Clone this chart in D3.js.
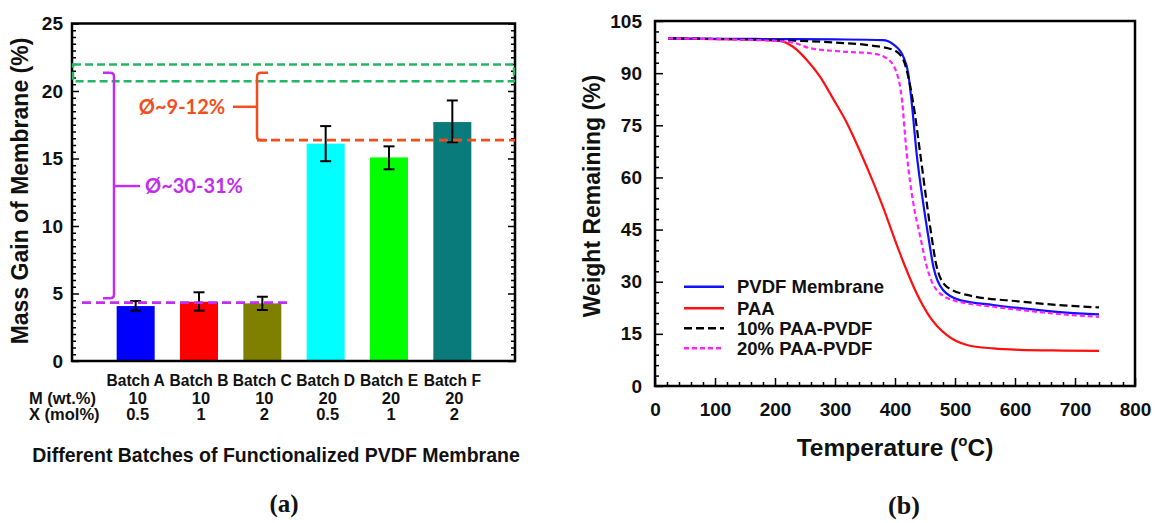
<!DOCTYPE html>
<html><head><meta charset="utf-8">
<script src="https://cdn.jsdelivr.net/npm/d3@7"></script>
<style>
body{margin:0;background:#fff}
svg{display:block}
</style>
</head><body>
<svg id="c" width="1155" height="523"></svg>
<script>
// ---------- Panel (a) data ----------
const batches = ["Batch A","Batch B","Batch C","Batch D","Batch E","Batch F"];
const massGain = [4.07, 4.39, 4.27, 16.1, 15.08, 17.7];
const errLow  = [3.73, 3.73, 3.78, 14.8, 14.2, 16.2];
const errHigh = [4.44, 5.09, 4.76, 17.4, 15.9, 19.3];
const barColors = ["#0000ff","#ff0000","#808000","#00ffff","#00ff00","#0a7b7b"];
const mValues = ["10","10","10","20","20","20"];
const xValues = ["0.5","1","2","0.5","1","2"];
const yTicksA = [0,5,10,15,20,25];
const greenBand = [20.73, 21.96];
const orangeLevel = 16.36;
const purpleLevel = 4.32;
const bracketTop = 21.35;
const orangeMid = 18.83;
const purpleMid = 12.96;
const purpleBottom = 4.64;

// ---------- Panel (b) data ----------
const seriesNames = ["PVDF Membrane","PAA","10% PAA-PVDF","20% PAA-PVDF"];
const pvdf = [[22,100],[100,99.9],[200,99.8],[300,99.7],[380,99.5],[397,98.3],[414,94.7],[422,90],[428,81.3],[436,66.9],[447,52.6],[455.5,43],[464,34.3],[480,27.6],[508,24.7],[564,23.3],[608,22.4],[680,21.2],[740,20.6]];
const paa = [[22,100],[100,99.8],[175,99.6],[208,99.3],[230,97.6],[253,93.8],[275,89],[297,82.6],[320,75.6],[342,67.4],[364,58.5],[381,51],[397,43.4],[414,35.6],[436,26.7],[458,19.9],[486,14.7],[520,11.8],[564,10.8],[608,10.4],[680,10.2],[740,10.1]];
const paa10 = [[22,100],[150,99.7],[200,99.5],[300,98.8],[358,98.0],[397,96.7],[414,93.8],[422,89],[430.5,81.3],[442,66.9],[453,52.6],[461,43],[469.5,34.3],[486,28.6],[520,26.2],[608,24.3],[680,23.2],[740,22.6]];
const paa20 = [[22,100],[150,99.6],[200,99.3],[230,98.8],[258,97.2],[314,96.2],[364,95.6],[386,94.3],[403,90],[411,83.2],[419.5,66.9],[430.5,52.6],[442,43],[453,34.3],[469.5,27.6],[497,24.7],[564,22.8],[608,21.9],[680,20.6],[740,19.9]];
const seriesColors = ["#1010ff","#ff1010","#000000","#ff22ff"];
const seriesDash = [null,null,"8,4","5,3"];
const xTicksB = [0,100,200,300,400,500,600,700,800];
const yTicksB = [0,15,30,45,60,75,90,105];

const SANS = "'Liberation Sans', Arial, sans-serif";
const SERIF = "'Liberation Serif', 'Times New Roman', serif";
const CALI = "Lato, 'Open Sans', sans-serif";
const svg = d3.select("#c");
function txt(g, x, y, s, size, opts={}){
  const t = g.append("text").attr("x",x).attr("y",y)
    .style("font-family", opts.family||SANS).style("font-weight","bold")
    .style("font-size", size+"px").style("fill", opts.fill||"#111")
    .attr("text-anchor", opts.anchor||"start");
  if (s!==null) t.text(s);
  return t;
}

// ================= Panel (a) =================
const A = {x0:72, x1:515};
const yA = d3.scaleLinear().domain([0,25]).range([361,23.5]);
const xA = d3.scaleBand().domain(batches).range([104,484]).paddingInner(0.4).paddingOuter(0.2);
const gA = svg.append("g");

gA.selectAll("rect.bar").data(batches).join("rect").attr("class","bar")
  .attr("x", d=>xA(d)).attr("width", xA.bandwidth())
  .attr("y", (d,i)=>yA(massGain[i])).attr("height",(d,i)=>yA(0)-yA(massGain[i]))
  .attr("fill",(d,i)=>barColors[i]);

const cap = 5.5;
batches.forEach((b,i)=>{
  const cx = xA(b)+xA.bandwidth()/2;
  const g = gA.append("g").attr("stroke","#000").attr("stroke-width",2);
  g.append("line").attr("x1",cx).attr("x2",cx).attr("y1",yA(errLow[i])).attr("y2",yA(errHigh[i]));
  g.append("line").attr("x1",cx-cap).attr("x2",cx+cap).attr("y1",yA(errLow[i])).attr("y2",yA(errLow[i]));
  g.append("line").attr("x1",cx-cap).attr("x2",cx+cap).attr("y1",yA(errHigh[i])).attr("y2",yA(errHigh[i]));
});

function styleAxis(g){
  g.select(".domain").remove();
  g.selectAll(".tick line").attr("stroke","#000").attr("stroke-width",1.5);
  g.selectAll("text").style("font-size","19px").style("fill","#111")
    .style("font-family",SANS).style("font-weight","bold");
}
const minorA = d3.range(0,25.01,0.5).filter(v=>v%5!==0);
gA.append("g").attr("transform",`translate(${A.x0},0)`)
  .call(d3.axisLeft(yA).tickValues(yTicksA).tickSize(-7).tickPadding(9).tickFormat(d3.format("d"))).call(styleAxis);
gA.append("g").attr("transform",`translate(${A.x0},0)`)
  .call(d3.axisLeft(yA).tickValues(minorA).tickSize(-4).tickFormat("")).call(styleAxis);
gA.append("g").attr("transform",`translate(${A.x1},0)`)
  .call(d3.axisRight(yA).tickValues(yTicksA).tickSize(-7).tickFormat("")).call(styleAxis);
gA.append("g").attr("transform",`translate(${A.x1},0)`)
  .call(d3.axisRight(yA).tickValues(minorA).tickSize(-4).tickFormat("")).call(styleAxis);

gA.append("rect").attr("x",A.x0).attr("y",yA(25)).attr("width",A.x1-A.x0).attr("height",yA(0)-yA(25))
  .attr("fill","none").attr("stroke","#000").attr("stroke-width",2.5);

// annotations
const green="#25b565", orange="#f24e1e", purple="#c22ef0";
gA.append("rect").attr("x",A.x0+1).attr("y",yA(greenBand[1])).attr("width",A.x1-A.x0-2)
  .attr("height",yA(greenBand[0])-yA(greenBand[1]))
  .attr("fill","none").attr("stroke",green).attr("stroke-width",2.5).attr("stroke-dasharray","8,4");
gA.append("line").attr("x1",257).attr("x2",A.x1).attr("y1",yA(orangeLevel)).attr("y2",yA(orangeLevel))
  .attr("stroke",orange).attr("stroke-width",2.8).attr("stroke-dasharray","9,5");
gA.append("line").attr("x1",82).attr("x2",291).attr("y1",yA(purpleLevel)).attr("y2",yA(purpleLevel))
  .attr("stroke",purple).attr("stroke-width",2.8).attr("stroke-dasharray","9,5");
{
  const bx=257, yt=yA(bracketTop), yb=yA(orangeLevel), ym=yA(orangeMid);
  gA.append("path").attr("d",`M${bx+11},${yt} H${bx+4} Q${bx},${yt} ${bx},${yt+4} V${yb-4} Q${bx},${yb} ${bx+4},${yb} H${bx+10}`)
    .attr("fill","none").attr("stroke",orange).attr("stroke-width",2.5);
  gA.append("path").attr("d",`M${bx-24},${ym} H${bx}`).attr("stroke",orange).attr("stroke-width",2.5);
  txt(gA,182,ym+7,"Ø~9-12%",20,{family:CALI,fill:orange,anchor:"middle"});
}
{
  const bx=114, yt=yA(bracketTop), yb=yA(purpleBottom), ym=yA(purpleMid);
  gA.append("path").attr("d",`M${bx-11},${yt} H${bx-4} Q${bx},${yt} ${bx},${yt+4} V${yb-4} Q${bx},${yb} ${bx-4},${yb} H${bx-11}`)
    .attr("fill","none").attr("stroke",purple).attr("stroke-width",2.5);
  gA.append("path").attr("d",`M${bx},${ym} H${bx+26}`).attr("stroke",purple).attr("stroke-width",2.5);
  txt(gA,194,ym+7,"Ø~30-31%",20,{family:CALI,fill:purple,anchor:"middle"});
}

txt(gA,0,0,"Mass Gain of Membrane (%)",23,{anchor:"middle"}).attr("transform","translate(28,191) rotate(-90)");

batches.forEach((b,i)=>{
  const cx = xA(b)+xA.bandwidth()/2;
  txt(gA,cx,386,b,15.6,{anchor:"middle"});
  txt(gA,cx+2,404,mValues[i],16.5,{anchor:"middle"});
  txt(gA,cx+2,420,xValues[i],16.5,{anchor:"middle"});
});
txt(gA,29,404,"M (wt.%)",16.5);
txt(gA,29,420,"X (mol%)",16.5);
txt(gA,276,462,"Different Batches of Functionalized PVDF Membrane",19.5,{anchor:"middle"});
txt(gA,284,512,"(a)",25,{family:SERIF,anchor:"middle"});

// ================= Panel (b) =================
const xB = d3.scaleLinear().domain([0,800]).range([655,1135]);
const yB = d3.scaleLinear().domain([0,105]).range([386,21]);
const gB = svg.append("g");
const minorBy = d3.range(0,105,3).filter(v=>v%15!==0);
const minorBx = d3.range(0,800,20).filter(v=>v%100!==0);
gB.append("g").attr("transform",`translate(655,0)`)
  .call(d3.axisLeft(yB).tickValues(yTicksB).tickSize(-8).tickPadding(13).tickFormat(d3.format("d"))).call(styleAxis);
gB.append("g").attr("transform",`translate(655,0)`)
  .call(d3.axisLeft(yB).tickValues(minorBy).tickSize(-4).tickFormat("")).call(styleAxis);
gB.append("g").attr("transform",`translate(0,386)`)
  .call(d3.axisBottom(xB).tickValues(xTicksB).tickSize(-8).tickPadding(17).tickFormat(d3.format("d"))).call(styleAxis);
gB.append("g").attr("transform",`translate(0,386)`)
  .call(d3.axisBottom(xB).tickValues(minorBx).tickSize(-4).tickFormat("")).call(styleAxis);
gB.append("rect").attr("x",xB(0)).attr("y",yB(105)).attr("width",xB(800)-xB(0)).attr("height",yB(0)-yB(105))
  .attr("fill","none").attr("stroke","#000").attr("stroke-width",2.5);

const line = d3.line().x(d=>xB(d[0])).y(d=>yB(d[1])).curve(d3.curveMonotoneX);
const allSeries = [pvdf, paa, paa10, paa20];
[1,0,2,3].forEach(i=>{
  gB.append("path").attr("d",line(allSeries[i])).attr("fill","none")
    .attr("stroke",seriesColors[i]).attr("stroke-width",2.2)
    .attr("stroke-dasharray",seriesDash[i]);
});

const legY = [286.7,308.3,328.3,348.3];
seriesNames.forEach((n,i)=>{
  gB.append("line").attr("x1",684).attr("x2",724).attr("y1",legY[i]).attr("y2",legY[i])
    .attr("stroke",seriesColors[i]).attr("stroke-width",2.6).attr("stroke-dasharray",seriesDash[i]);
  txt(gB,737,legY[i]+6.5,n,18.5);
});

const tl = txt(gB,895,456,null,24.5,{anchor:"middle"});
tl.append("tspan").text("Temperature (");
tl.append("tspan").attr("dy",-10).style("font-size","15px").text("o");
tl.append("tspan").attr("dy",10).text("C)");
txt(gB,0,0,"Weight Remaining (%)",23,{anchor:"middle"}).attr("transform","translate(600,196) rotate(-90)");
txt(gB,904,514,"(b)",26,{family:SERIF,anchor:"middle"});
</script>
</body></html>
